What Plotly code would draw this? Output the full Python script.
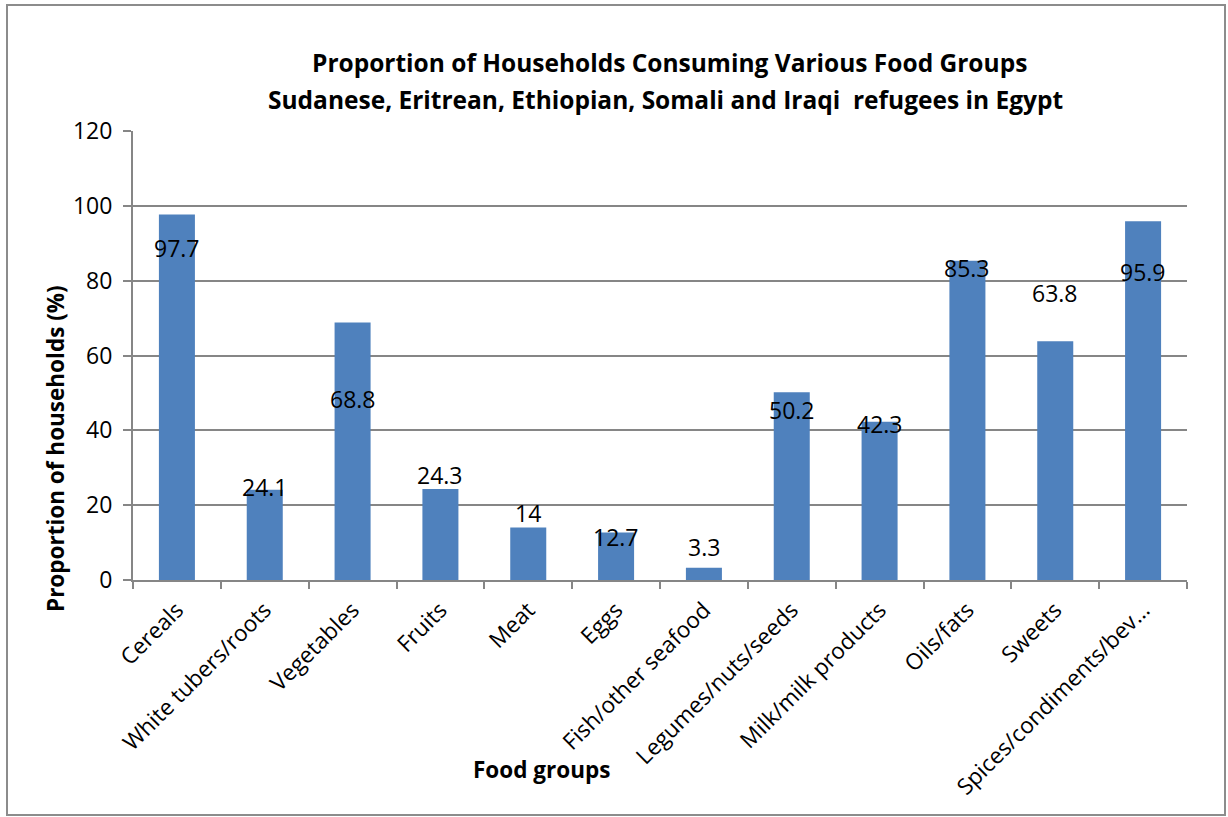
import plotly.graph_objects as go

categories = ["Cereals", "White tubers/roots", "Vegetables", "Fruits", "Meat", "Eggs",
              "Fish/other seafood", "Legumes/nuts/seeds", "Milk/milk products",
              "Oils/fats", "Sweets", "Spices/condiments/bev…"]
values = [97.7, 24.1, 68.8, 24.3, 14, 12.7, 3.3, 50.2, 42.3, 85.3, 63.8, 95.9]
value_labels = ["97.7", "24.1", "68.8", "24.3", "14", "12.7", "3.3", "50.2", "42.3", "85.3", "63.8", "95.9"]
y_ticks = [0, 20, 40, 60, 80, 100, 120]
title_lines = ["Proportion of Households Consuming Various Food Groups",
               "Sudanese, Eritrean, Ethiopian, Somali and Iraqi  refugees in Egypt"]
y_title = "Proportion of households (%)"
x_title = "Food groups"

# label placement offsets (styling, in axis units) mimicking the original
label_shift = [-9.1, 0.7, -20.4, 3.8, 3.9, -1.2, 5.5, -4.7, -0.5, -1.8, 13.0, -13.7]

FONT = "Open Sans"
W, H = 1228, 817
L, R, T, B = 133, 41, 131, 237
pw, ph = W - L - R, H - T - B

def px_x(p):
    return (p - L) / pw

def px_y(p):
    return (H - B - p) / ph

fig = go.Figure()
fig.add_trace(go.Bar(x=categories, y=values, marker=dict(color="#4F81BD", line=dict(width=0)),
                     showlegend=False, hoverinfo="x+y"))

annotations = []
for c, v, t, s in zip(categories, values, value_labels, label_shift):
    annotations.append(dict(x=c, y=v + s, xref="x", yref="y", text=t, showarrow=False,
                            font=dict(family=FONT, size=23, color="black"),
                            xanchor="center", yanchor="middle"))

annotations.append(dict(x=px_x(669), y=px_y(62), xref="paper", yref="paper", text="<b>" + title_lines[0] + "</b>",
                        showarrow=False, font=dict(family=FONT, size=24.5, color="black"),
                        xanchor="center", yanchor="middle"))
annotations.append(dict(x=px_x(665), y=px_y(100), xref="paper", yref="paper", text="<b>" + title_lines[1] + "</b>",
                        showarrow=False, font=dict(family=FONT, size=24.5, color="black"),
                        xanchor="center", yanchor="middle"))
annotations.append(dict(x=px_x(55), y=px_y(449), xref="paper", yref="paper", text="<b>" + y_title + "</b>",
                        showarrow=False, textangle=-90, font=dict(family=FONT, size=22.5, color="black"),
                        xanchor="center", yanchor="middle"))
annotations.append(dict(x=px_x(541), y=px_y(769), xref="paper", yref="paper", text="<b>" + x_title + "</b>",
                        showarrow=False, font=dict(family=FONT, size=22.5, color="black"),
                        xanchor="center", yanchor="middle"))

fig.update_layout(
    width=W, height=H,
    margin=dict(l=L, r=R, t=T, b=B, autoexpand=False),
    paper_bgcolor="white", plot_bgcolor="white",
    bargap=0.59,
    annotations=annotations,
    shapes=[dict(type="rect", xref="paper", yref="paper",
                 x0=px_x(7), x1=px_x(1225), y0=px_y(815), y1=px_y(5),
                 line=dict(color="#8C8C8C", width=2), fillcolor="rgba(0,0,0,0)", layer="below")],
    font=dict(family=FONT, color="black"),
)
fig.update_xaxes(
    showline=True, linecolor="#868686", linewidth=2,
    ticks="outside", tickson="boundaries", ticklen=7, tickcolor="#868686", tickwidth=2,
    tickangle=-45, tickfont=dict(family=FONT, size=22.5, color="black"), ticklabelstandoff=6,
    showgrid=False,
)
fig.update_yaxes(
    range=[0, 120], tickvals=y_ticks, ticktext=[str(v) for v in y_ticks],
    showline=True, linecolor="#868686", linewidth=2,
    ticks="outside", ticklen=8, tickcolor="#868686", tickwidth=2,
    tickfont=dict(family=FONT, size=23, color="black"), ticklabelstandoff=6,
    showgrid=True, gridcolor="#868686", gridwidth=2, zeroline=False,
)

fig.write_html("out.html")
